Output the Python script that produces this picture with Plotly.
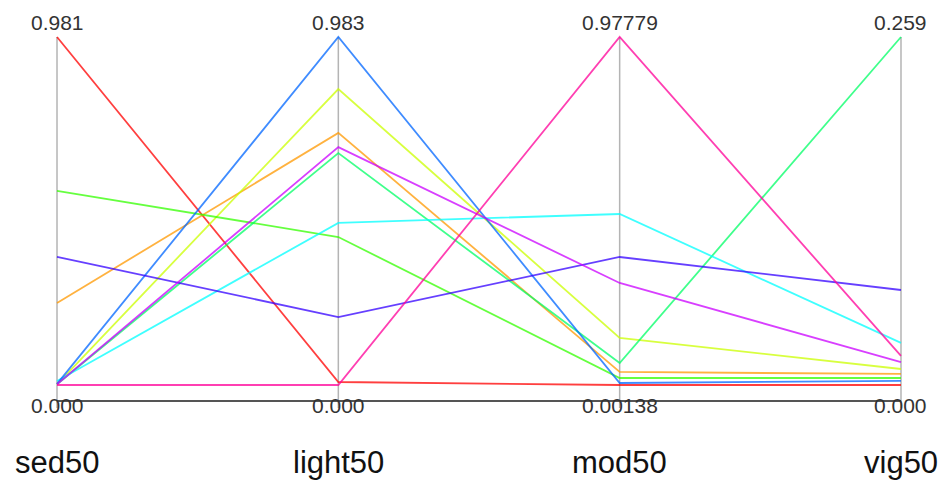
import plotly.graph_objects as go

# ---- data ----
dimensions = ["sed50", "light50", "mod50", "vig50"]
series_names = ["s1", "s2", "s3", "s4", "s5", "s6", "s7", "s8", "s9", "s10"]
sed50 = [0.981, 0.231, 0.002, 0.547, 0.002, 0.011, 0.003, 0.361, 0.002, 0.000]
light50 = [0.0085, 0.712, 0.836, 0.418, 0.655, 0.458, 0.983, 0.192, 0.672, 0.000]
mod50 = [0.00138, 0.0379, 0.1333, 0.021, 0.0631, 0.4812, 0.007, 0.3605, 0.2876, 0.97779]
vig50 = [0.000, 0.0082, 0.0119, 0.0052, 0.259, 0.0313, 0.003, 0.0707, 0.0171, 0.0216]
top_labels = ["0.981", "0.983", "0.97779", "0.259"]
bottom_labels = ["0.000", "0.000", "0.00138", "0.000"]

colors = ["#FF0000", "#FF9900", "#CCFF00", "#33FF00", "#00FF66",
          "#00FFFF", "#0066FF", "#3300FF", "#CC00FF", "#FF0099"]

columns = [sed50, light50, mod50, vig50]
mins = [min(c) for c in columns]
maxs = [max(c) for c in columns]

def norm(v, j):
    return (v - mins[j]) / (maxs[j] - mins[j])

xs = list(range(len(dimensions)))

fig = go.Figure()
for i, name in enumerate(series_names):
    ys = [norm(columns[j][i], j) for j in range(len(dimensions))]
    fig.add_trace(go.Scatter(
        x=xs, y=ys, mode="lines", name=name,
        line=dict(color=colors[i], width=1.8),
        opacity=0.75, hoverinfo="skip", showlegend=False,
    ))

shapes = []
for j in xs:
    shapes.append(dict(type="line", xref="x", yref="y", x0=j, x1=j, y0=-0.066, y1=1,
                       line=dict(color="#b4b4b4", width=1.5), layer="below"))
shapes.append(dict(type="line", xref="x", yref="y", x0=0, x1=3, y0=-0.046, y1=-0.046,
                   line=dict(color="#555555", width=2), layer="above"))

annotations = []
font_family = "Liberation Sans, Arial, sans-serif"
for j, dim in enumerate(dimensions):
    annotations.append(dict(x=j, y=1.042, xref="x", yref="y", text=top_labels[j],
                            showarrow=False, xanchor="center", yanchor="middle", borderpad=0,
                            font=dict(family=font_family, size=21, color="#333333")))
    annotations.append(dict(x=j, y=-0.0603, xref="x", yref="y", text=bottom_labels[j],
                            showarrow=False, xanchor="center", yanchor="middle", borderpad=0,
                            font=dict(family=font_family, size=21, color="#333333")))
    annotations.append(dict(x=j, y=-0.2213, xref="x", yref="y", text=dim,
                            showarrow=False, xanchor="center", yanchor="middle", borderpad=0,
                            font=dict(family=font_family, size=31, color="#111111")))

fig.update_layout(
    width=938, height=477,
    margin=dict(l=0, r=0, t=0, b=0),
    paper_bgcolor="white", plot_bgcolor="white",
    xaxis=dict(range=[-0.1742, 3.16], visible=False, fixedrange=True),
    yaxis=dict(range=[-0.2874, 1.0833], visible=False, fixedrange=True),
    shapes=shapes, annotations=annotations,
)

fig.write_html("out.html")
